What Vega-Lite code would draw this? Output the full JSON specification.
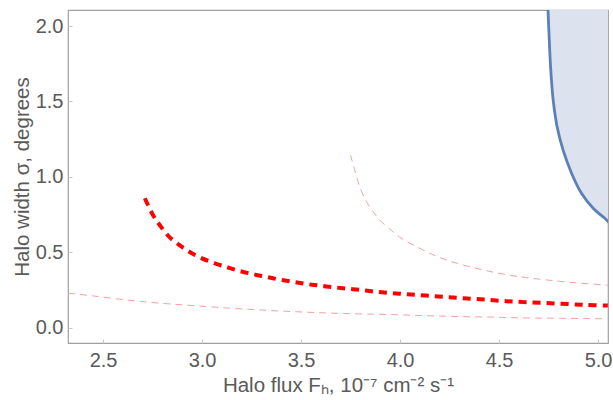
{
  "$schema": "https://vega.github.io/schema/vega-lite/v6.json",
  "width": 540,
  "height": 333,
  "autosize": {"type": "none"},
  "padding": {"left": 68, "top": 10, "right": 5, "bottom": 57},
  "background": "white",
  "config": {
    "view": {"stroke": "#a0a0a0", "strokeWidth": 1.2},
    "font": "Liberation Sans",
    "axis": {
      "grid": false,
      "domain": false,
      "labelFont": "Liberation Sans",
      "titleFont": "Liberation Sans",
      "labelFontSize": 20,
      "titleFontSize": 20.5,
      "labelColor": "#5a5a5a",
      "titleColor": "#5a5a5a",
      "titleFontWeight": "normal",
      "tickColor": "#c8c8c8",
      "tickSize": -4
    }
  },
  "datasets": {
    "thick": [
      {"flux": 2.711, "width": 0.859}, {"flux": 2.752, "width": 0.748}, {"flux": 2.786, "width": 0.682},
      {"flux": 2.833, "width": 0.605}, {"flux": 2.884, "width": 0.55}, {"flux": 2.938, "width": 0.503},
      {"flux": 2.997, "width": 0.462}, {"flux": 3.064, "width": 0.428}, {"flux": 3.126, "width": 0.402},
      {"flux": 3.19, "width": 0.377}, {"flux": 3.258, "width": 0.356}, {"flux": 3.325, "width": 0.338},
      {"flux": 3.392, "width": 0.32}, {"flux": 3.46, "width": 0.305}, {"flux": 3.527, "width": 0.291},
      {"flux": 3.594, "width": 0.28}, {"flux": 3.662, "width": 0.27}, {"flux": 3.729, "width": 0.26},
      {"flux": 3.796, "width": 0.252}, {"flux": 3.864, "width": 0.241}, {"flux": 3.998, "width": 0.227},
      {"flux": 4.133, "width": 0.214}, {"flux": 4.268, "width": 0.201}, {"flux": 4.403, "width": 0.19},
      {"flux": 4.537, "width": 0.177}, {"flux": 4.672, "width": 0.168}, {"flux": 4.807, "width": 0.161},
      {"flux": 4.941, "width": 0.152}, {"flux": 5.049, "width": 0.148}
    ],
    "upper": [
      {"flux": 3.749, "width": 1.146}, {"flux": 3.771, "width": 1.046}, {"flux": 3.796, "width": 0.936},
      {"flux": 3.83, "width": 0.836}, {"flux": 3.864, "width": 0.77}, {"flux": 3.897, "width": 0.715},
      {"flux": 3.948, "width": 0.654}, {"flux": 3.998, "width": 0.601}, {"flux": 4.066, "width": 0.55},
      {"flux": 4.15, "width": 0.495}, {"flux": 4.234, "width": 0.45}, {"flux": 4.335, "width": 0.411},
      {"flux": 4.436, "width": 0.379}, {"flux": 4.537, "width": 0.353}, {"flux": 4.638, "width": 0.333},
      {"flux": 4.739, "width": 0.318}, {"flux": 4.874, "width": 0.3}, {"flux": 5.049, "width": 0.283}
    ],
    "lower": [
      {"flux": 2.323, "width": 0.23}, {"flux": 2.449, "width": 0.212}, {"flux": 2.618, "width": 0.185},
      {"flux": 2.786, "width": 0.164}, {"flux": 2.955, "width": 0.148}, {"flux": 3.123, "width": 0.132},
      {"flux": 3.291, "width": 0.119}, {"flux": 3.46, "width": 0.108}, {"flux": 3.628, "width": 0.099},
      {"flux": 3.796, "width": 0.093}, {"flux": 3.965, "width": 0.088}, {"flux": 4.133, "width": 0.081},
      {"flux": 4.302, "width": 0.075}, {"flux": 4.47, "width": 0.071}, {"flux": 4.638, "width": 0.066},
      {"flux": 4.807, "width": 0.064}, {"flux": 5.049, "width": 0.06}
    ],
    "excluded": [
      {"flux": 4.744, "width": 2.2}, {"flux": 4.747, "width": 2.106}, {"flux": 4.752, "width": 1.952},
      {"flux": 4.76, "width": 1.73}, {"flux": 4.773, "width": 1.51}, {"flux": 4.793, "width": 1.333},
      {"flux": 4.823, "width": 1.179}, {"flux": 4.866, "width": 1.025}, {"flux": 4.916, "width": 0.892},
      {"flux": 4.975, "width": 0.793}, {"flux": 5.034, "width": 0.726}, {"flux": 5.056, "width": 0.697},
      {"flux": 5.08, "width": 0.68}
    ]
  },
  "encoding": {
    "x": {
      "field": "flux", "type": "quantitative",
      "scale": {"domain": [2.323, 5.05], "nice": false, "zero": false},
      "axis": {"values": [2.5, 3.0, 3.5, 4.0, 4.5, 5.0], "format": ".1f", "labelPadding": 11,
               "title": "Halo flux Fₕ, 10⁻⁷ cm⁻² s⁻¹", "titlePadding": 5}
    },
    "y": {
      "field": "width", "type": "quantitative",
      "scale": {"domain": [-0.1, 2.106], "nice": false, "zero": false},
      "axis": {"values": [0, 0.5, 1.0, 1.5, 2.0], "format": ".1f", "labelPadding": 9,
               "title": "Halo width σ, degrees", "titlePadding": 3}
    }
  },
  "layer": [
    {
      "data": {"name": "excluded"},
      "mark": {"type": "area", "orient": "horizontal", "color": "#dde3ee", "opacity": 1, "clip": true, "interpolate": "catmull-rom"},
      "encoding": {"x2": {"datum": 5.2}}
    },
    {
      "data": {"name": "excluded"},
      "mark": {"type": "line", "color": "#5b80b8", "strokeWidth": 2.8, "clip": true, "interpolate": "catmull-rom"},
      "encoding": {"order": {"field": "width", "type": "quantitative", "sort": "descending"}}
    },
    {
      "data": {"name": "lower"},
      "mark": {"type": "line", "color": "#f2a3a3", "strokeWidth": 1, "strokeDash": [7, 5], "clip": true, "interpolate": "catmull-rom"},
      "encoding": {}
    },
    {
      "data": {"name": "upper"},
      "mark": {"type": "line", "color": "#f2a3a3", "strokeWidth": 1, "strokeDash": [7, 5], "clip": true, "interpolate": "catmull-rom"},
      "encoding": {}
    },
    {
      "data": {"name": "thick"},
      "mark": {"type": "line", "color": "#ff0000", "strokeWidth": 4, "strokeDash": [8, 6], "clip": true, "interpolate": "catmull-rom"},
      "encoding": {}
    }
  ]
}
